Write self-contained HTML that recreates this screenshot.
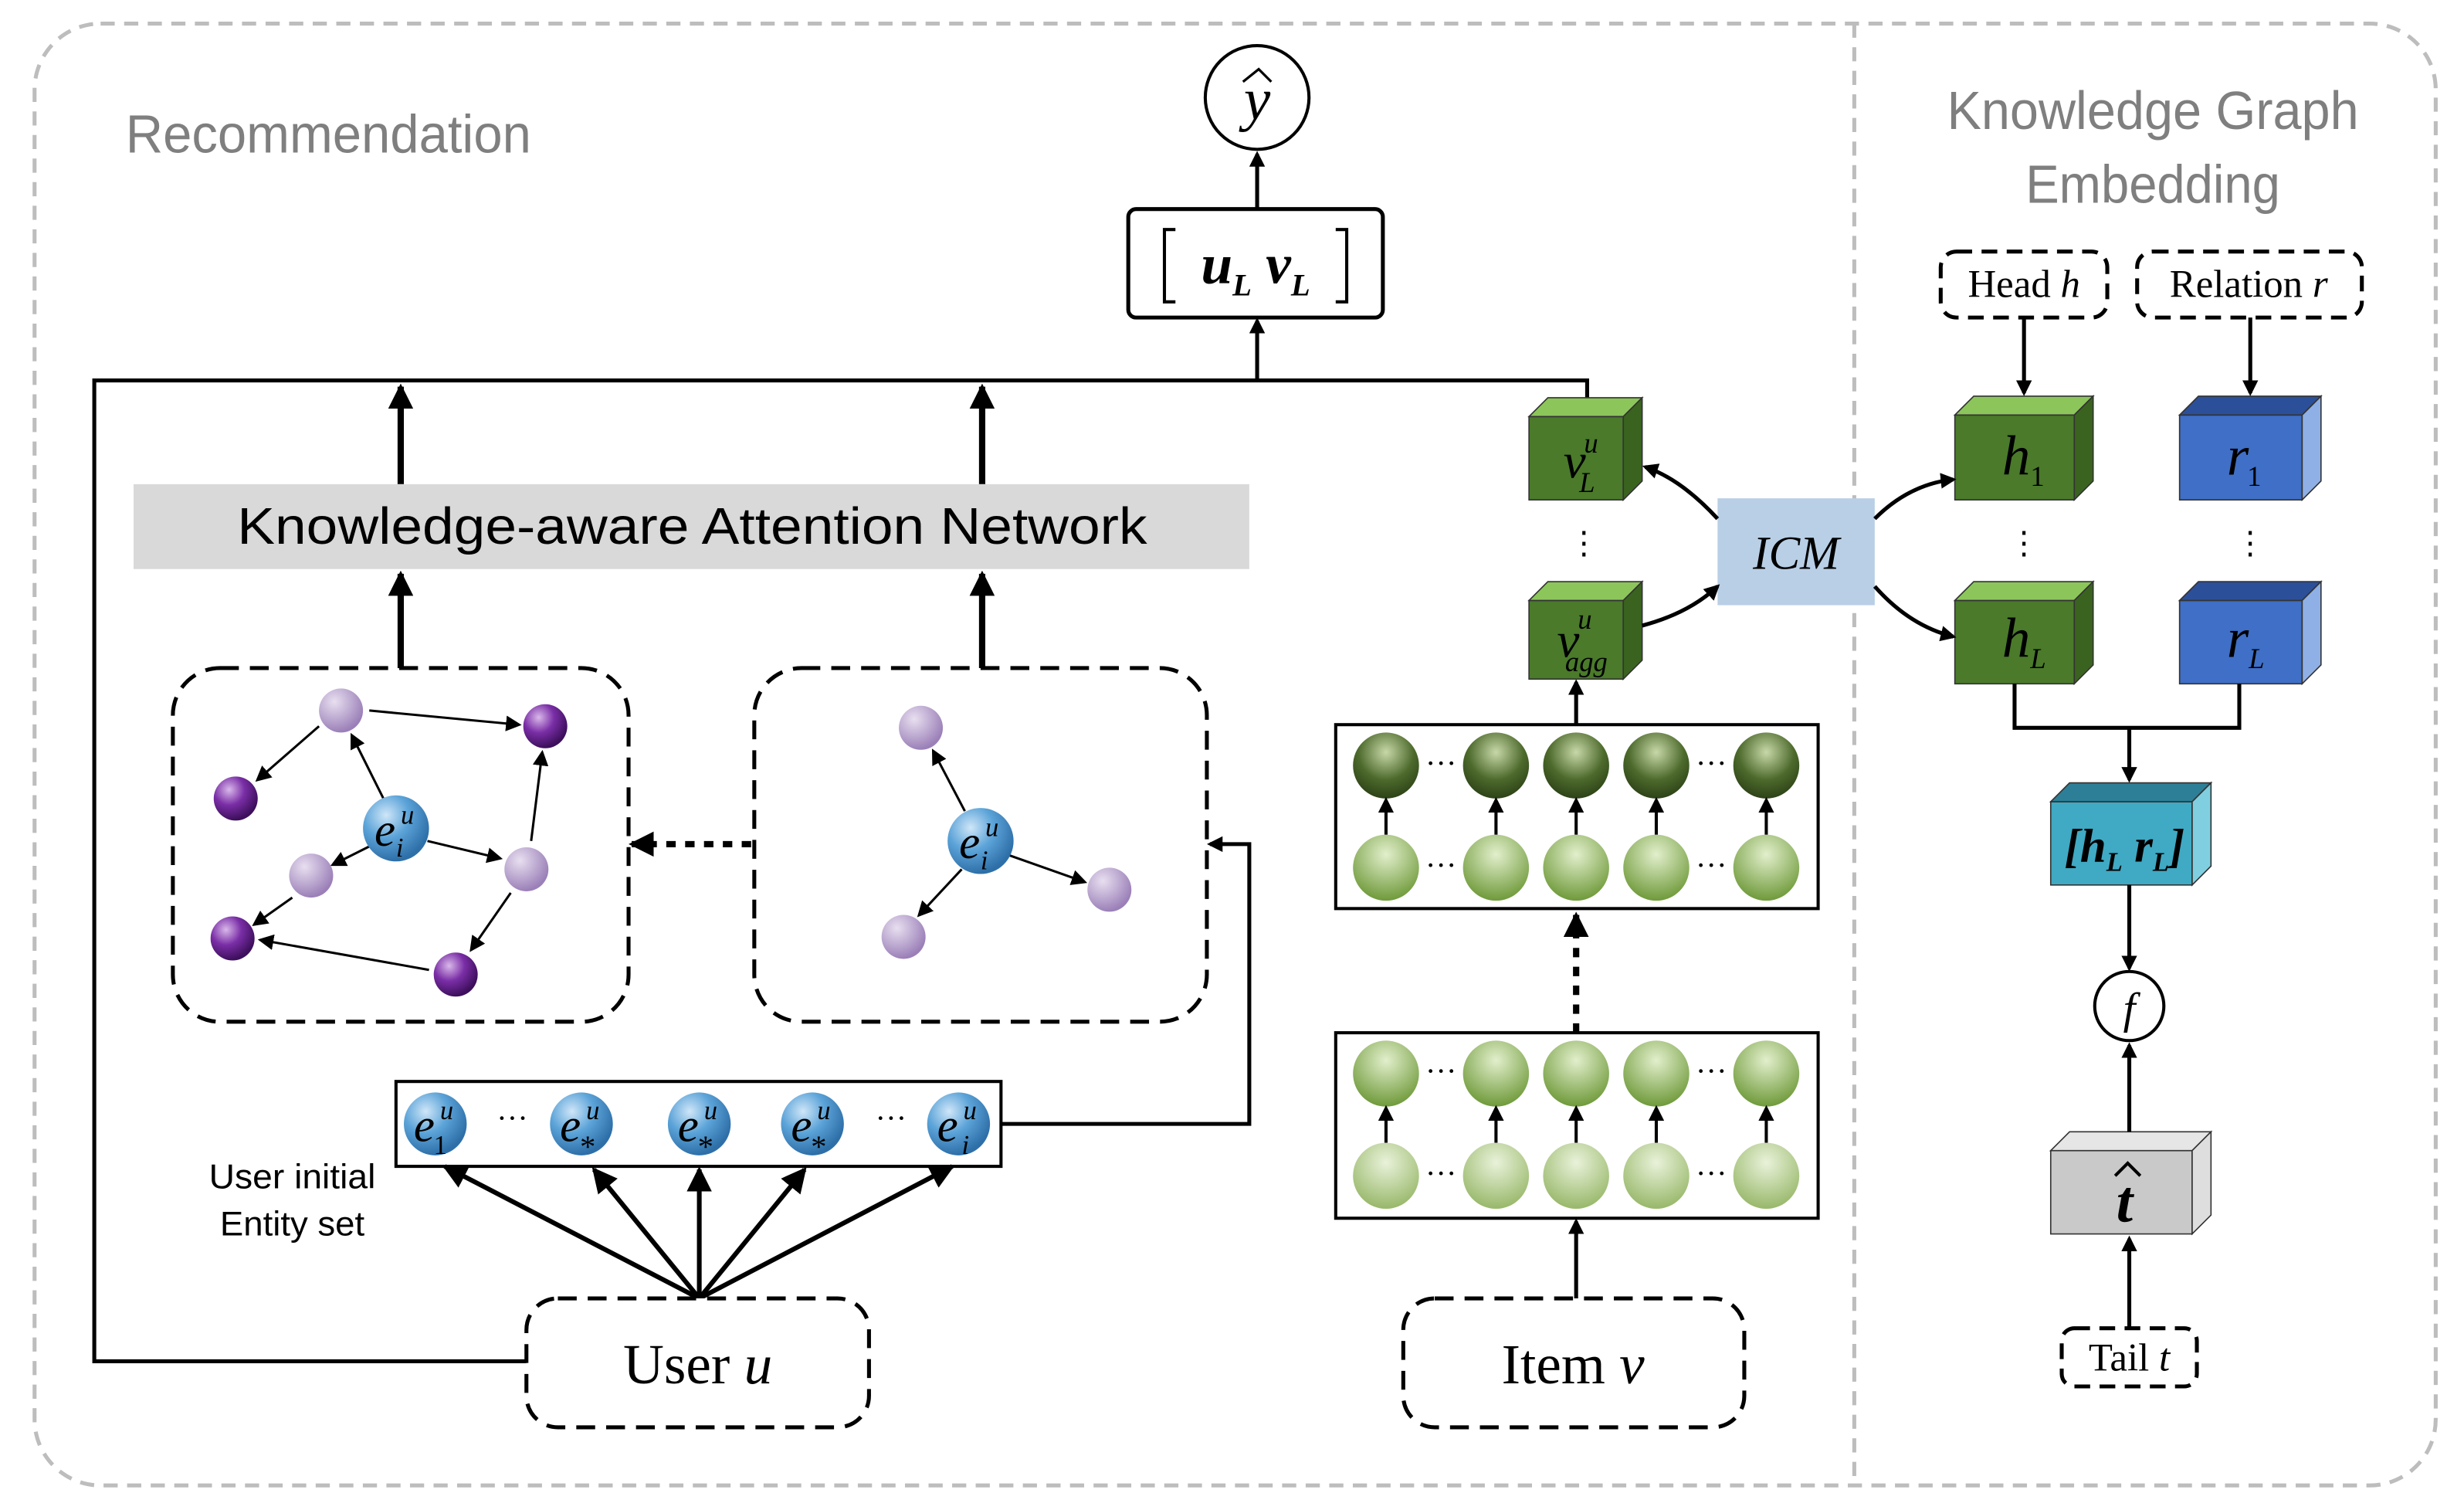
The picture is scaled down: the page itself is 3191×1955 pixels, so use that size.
<!DOCTYPE html>
<html><head><meta charset="utf-8"><style>
html,body{margin:0;padding:0;background:#fff}
svg{display:block}
.s{font-family:"Liberation Sans",sans-serif}
.t{font-family:"Liberation Serif",serif}
</style></head><body>
<svg width="3191" height="1955" viewBox="0 0 1568 960.6" xmlns="http://www.w3.org/2000/svg">
<defs>
<marker id="a" markerWidth="10" markerHeight="10" refX="8" refY="5" orient="auto" markerUnits="userSpaceOnUse"><path d="M0,0 L10,5 L0,10 z" fill="#000"/></marker>
<marker id="A" markerWidth="16" markerHeight="16" refX="14" refY="8" orient="auto" markerUnits="userSpaceOnUse"><path d="M0,0 L16,8 L0,16 z" fill="#000"/></marker>
<radialGradient id="gb" cx="35%" cy="30%" r="70%"><stop offset="0" stop-color="#cfe6f8"/><stop offset="0.5" stop-color="#5ba3d8"/><stop offset="1" stop-color="#2e6fa8"/></radialGradient>
<radialGradient id="gp" cx="35%" cy="30%" r="70%"><stop offset="0" stop-color="#e8dff0"/><stop offset="1" stop-color="#9b80b8"/></radialGradient>
<radialGradient id="gd" cx="35%" cy="30%" r="70%"><stop offset="0" stop-color="#d9b8ea"/><stop offset="0.5" stop-color="#7a2ea6"/><stop offset="1" stop-color="#3d0f5c"/></radialGradient>
<radialGradient id="gg1" cx="50%" cy="30%" r="70%"><stop offset="0" stop-color="#c7d8a8"/><stop offset="0.6" stop-color="#4d6a2c"/><stop offset="1" stop-color="#2d4217"/></radialGradient>
<radialGradient id="gg2" cx="50%" cy="30%" r="70%"><stop offset="0" stop-color="#e2efcc"/><stop offset="1" stop-color="#6f9a3a"/></radialGradient>
<radialGradient id="gg3" cx="50%" cy="30%" r="70%"><stop offset="0" stop-color="#e9f2da"/><stop offset="1" stop-color="#98b86a"/></radialGradient>
</defs>
<rect width="1568" height="961" fill="#fff"/>
<rect x="22" y="15" width="1528" height="930" rx="42" fill="none" stroke="#bdbdbd" stroke-width="2.5" stroke-dasharray="9,6"/>
<line x1="1180" y1="15" x2="1180" y2="945" stroke="#bdbdbd" stroke-width="2.5" stroke-dasharray="9,6"/>
<text x="80" y="97" class="s" font-size="34" fill="#7f7f7f" textLength="258" lengthAdjust="spacingAndGlyphs">Recommendation</text>
<text x="1239" y="82" class="s" font-size="34" fill="#7f7f7f" textLength="262" lengthAdjust="spacingAndGlyphs">Knowledge Graph</text>
<text x="1289" y="129" class="s" font-size="34" fill="#7f7f7f" textLength="162" lengthAdjust="spacingAndGlyphs">Embedding</text>

<circle cx="800" cy="62" r="33" fill="#fff" stroke="#000" stroke-width="2"/>
<text x="800" y="76" class="t" font-size="38" font-style="italic" text-anchor="middle">y</text>
<path d="M791,52 L801,44 L809,52" fill="none" stroke="#000" stroke-width="1.6"/>
<rect x="718" y="133" width="162" height="69" rx="5" fill="#fff" stroke="#000" stroke-width="2.5"/>
<path d="M748,146 L741,146 L741,192 L748,192 M850,146 L857,146 L857,192 L850,192" fill="none" stroke="#000" stroke-width="2"/>
<text x="799" y="180" class="t" font-size="36" font-style="italic" font-weight="bold" text-anchor="middle">u<tspan font-size="20" dy="8">L</tspan><tspan dy="-8"> v</tspan><tspan font-size="20" dy="8">L</tspan></text>
<line x1="800" y1="133" x2="800" y2="98" stroke="#000" stroke-width="2.5" marker-end="url(#a)"/>
<line x1="800" y1="242" x2="800" y2="204" stroke="#000" stroke-width="2.5" marker-end="url(#a)"/>
<polyline points="335,866 60,866 60,242 1010,242 1010,256" fill="none" stroke="#000" stroke-width="2.5"/>
<line x1="255" y1="308" x2="255" y2="246" stroke="#000" stroke-width="4" marker-end="url(#A)"/>
<line x1="625" y1="308" x2="625" y2="246" stroke="#000" stroke-width="4" marker-end="url(#A)"/>
<rect x="85" y="308" width="710" height="54" fill="#d9d9d9"/>
<text x="151" y="346" class="s" font-size="33" textLength="579" lengthAdjust="spacingAndGlyphs">Knowledge-aware Attention Network</text>
<line x1="255" y1="425" x2="255" y2="365" stroke="#000" stroke-width="4" marker-end="url(#A)"/>
<line x1="625" y1="425" x2="625" y2="365" stroke="#000" stroke-width="4" marker-end="url(#A)"/>
<rect x="110" y="425" width="290" height="225" rx="30" fill="none" stroke="#000" stroke-width="2.5" stroke-dasharray="12,7"/>
<rect x="480" y="425" width="288" height="225" rx="30" fill="none" stroke="#000" stroke-width="2.5" stroke-dasharray="12,7"/>
<line x1="478" y1="537" x2="402" y2="537" stroke="#000" stroke-width="4" stroke-dasharray="6,6" marker-end="url(#A)"/>
<polyline points="637,715 795,715 795,537 770,537" fill="none" stroke="#000" stroke-width="2.5" marker-end="url(#a)"/>
<g stroke="#000" stroke-width="1.5" fill="none" marker-end="url(#a)">
<line x1="244" y1="508" x2="224" y2="468"/>
<line x1="235" y1="452" x2="330" y2="461"/>
<line x1="203" y1="462" x2="164" y2="496"/>
<line x1="272" y1="535" x2="318" y2="546"/>
<line x1="338" y1="535" x2="345" y2="479"/>
<line x1="325" y1="568" x2="300" y2="604"/>
<line x1="186" y1="571" x2="162" y2="588"/>
<line x1="273" y1="617" x2="166" y2="598"/>
<line x1="236" y1="538" x2="212" y2="550"/>
</g>
<circle cx="217" cy="452" r="14" fill="url(#gp)"/>
<circle cx="198" cy="557" r="14" fill="url(#gp)"/>
<circle cx="335" cy="553" r="14" fill="url(#gp)"/>
<circle cx="347" cy="462" r="14" fill="url(#gd)"/>
<circle cx="150" cy="508" r="14" fill="url(#gd)"/>
<circle cx="148" cy="597" r="14" fill="url(#gd)"/>
<circle cx="290" cy="620" r="14" fill="url(#gd)"/>
<circle cx="252" cy="527" r="21" fill="url(#gb)"/>
<text x="245" y="538" class="t" font-size="30" font-style="italic" text-anchor="middle">e</text><text x="255" y="524" class="t" font-size="17" font-style="italic">u</text><text x="252" y="545" class="t" font-size="17" font-style="italic">i</text>
<g stroke="#000" stroke-width="1.5" fill="none" marker-end="url(#a)">
<line x1="614" y1="516" x2="594" y2="478"/>
<line x1="642" y1="544" x2="690" y2="561"/>
<line x1="612" y1="553" x2="585" y2="582"/>
</g>
<circle cx="586" cy="463" r="14" fill="url(#gp)"/>
<circle cx="706" cy="566" r="14" fill="url(#gp)"/>
<circle cx="575" cy="596" r="14" fill="url(#gp)"/>
<circle cx="624" cy="535" r="21" fill="url(#gb)"/>
<text x="617" y="546" class="t" font-size="30" font-style="italic" text-anchor="middle">e</text><text x="627" y="532" class="t" font-size="17" font-style="italic">u</text><text x="624" y="553" class="t" font-size="17" font-style="italic">i</text>
<rect x="252" y="688" width="385" height="54" fill="#fff" stroke="#000" stroke-width="2"/>
<g class="t" font-style="italic">
<circle cx="277" cy="715" r="20" fill="url(#gb)"/><text x="270" y="726" font-size="30" text-anchor="middle">e</text><text x="280" y="712" font-size="17">u</text><text x="276" y="734" font-size="17" font-style="normal">1</text>
<circle cx="370" cy="715" r="20" fill="url(#gb)"/><text x="363" y="726" font-size="30" text-anchor="middle">e</text><text x="373" y="712" font-size="17">u</text><text x="369" y="736" font-size="20" font-style="normal">*</text>
<circle cx="445" cy="715" r="20" fill="url(#gb)"/><text x="438" y="726" font-size="30" text-anchor="middle">e</text><text x="448" y="712" font-size="17">u</text><text x="444" y="736" font-size="20" font-style="normal">*</text>
<circle cx="517" cy="715" r="20" fill="url(#gb)"/><text x="510" y="726" font-size="30" text-anchor="middle">e</text><text x="520" y="712" font-size="17">u</text><text x="516" y="736" font-size="20" font-style="normal">*</text>
<circle cx="610" cy="715" r="20" fill="url(#gb)"/><text x="603" y="726" font-size="30" text-anchor="middle">e</text><text x="613" y="712" font-size="17">u</text><text x="612" y="734" font-size="17">i</text>
<text x="326" y="718" font-size="20" font-style="normal" text-anchor="middle">···</text>
<text x="567" y="718" font-size="20" font-style="normal" text-anchor="middle">···</text>
</g>
<text x="186" y="756" class="s" font-size="22" text-anchor="middle" textLength="106" lengthAdjust="spacingAndGlyphs">User initial</text>
<text x="186" y="786" class="s" font-size="22" text-anchor="middle" textLength="92" lengthAdjust="spacingAndGlyphs">Entity set</text>
<g stroke="#000" stroke-width="3" marker-end="url(#A)">
<line x1="445" y1="826" x2="283" y2="742"/>
<line x1="445" y1="826" x2="378" y2="744"/>
<line x1="445" y1="826" x2="445" y2="744"/>
<line x1="445" y1="826" x2="512" y2="744"/>
<line x1="445" y1="826" x2="606" y2="742"/>
</g>
<rect x="335" y="826" width="218" height="82" rx="20" fill="#fff" stroke="#000" stroke-width="2.5" stroke-dasharray="12,7"/>
<text x="444" y="880" class="t" font-size="36" text-anchor="middle">User <tspan font-style="italic">u</tspan></text>
<rect x="893" y="826" width="217" height="82" rx="20" fill="#fff" stroke="#000" stroke-width="2.5" stroke-dasharray="12,7"/>
<text x="1001" y="880" class="t" font-size="36" text-anchor="middle">Item <tspan font-style="italic">v</tspan></text>
<line x1="1003" y1="826" x2="1003" y2="777" stroke="#000" stroke-width="2.5" marker-end="url(#a)"/>
<rect x="850" y="657" width="307" height="118" fill="#fff" stroke="#000" stroke-width="2"/>
<rect x="850" y="461" width="307" height="117" fill="#fff" stroke="#000" stroke-width="2"/>
<line x1="1003" y1="657" x2="1003" y2="582" stroke="#000" stroke-width="4" stroke-dasharray="6,6" marker-end="url(#A)"/>
<line x1="1003" y1="461" x2="1003" y2="434" stroke="#000" stroke-width="2.5" marker-end="url(#a)"/>
<g>
<circle cx="882" cy="487" r="21" fill="url(#gg1)"/><circle cx="952" cy="487" r="21" fill="url(#gg1)"/><circle cx="1003" cy="487" r="21" fill="url(#gg1)"/><circle cx="1054" cy="487" r="21" fill="url(#gg1)"/><circle cx="1124" cy="487" r="21" fill="url(#gg1)"/>
<circle cx="882" cy="552" r="21" fill="url(#gg2)"/><circle cx="952" cy="552" r="21" fill="url(#gg2)"/><circle cx="1003" cy="552" r="21" fill="url(#gg2)"/><circle cx="1054" cy="552" r="21" fill="url(#gg2)"/><circle cx="1124" cy="552" r="21" fill="url(#gg2)"/>
<circle cx="882" cy="683" r="21" fill="url(#gg2)"/><circle cx="952" cy="683" r="21" fill="url(#gg2)"/><circle cx="1003" cy="683" r="21" fill="url(#gg2)"/><circle cx="1054" cy="683" r="21" fill="url(#gg2)"/><circle cx="1124" cy="683" r="21" fill="url(#gg2)"/>
<circle cx="882" cy="748" r="21" fill="url(#gg3)"/><circle cx="952" cy="748" r="21" fill="url(#gg3)"/><circle cx="1003" cy="748" r="21" fill="url(#gg3)"/><circle cx="1054" cy="748" r="21" fill="url(#gg3)"/><circle cx="1124" cy="748" r="21" fill="url(#gg3)"/>
</g>
<g class="t" font-size="20" text-anchor="middle">
<text x="917" y="492">···</text><text x="1089" y="492">···</text><text x="917" y="557">···</text><text x="1089" y="557">···</text>
<text x="917" y="688">···</text><text x="1089" y="688">···</text><text x="917" y="753">···</text><text x="1089" y="753">···</text>
</g>
<g stroke="#000" stroke-width="2" marker-end="url(#a)">
<line x1="882" y1="531" x2="882" y2="509"/><line x1="952" y1="531" x2="952" y2="509"/><line x1="1003" y1="531" x2="1003" y2="509"/><line x1="1054" y1="531" x2="1054" y2="509"/><line x1="1124" y1="531" x2="1124" y2="509"/>
<line x1="882" y1="727" x2="882" y2="705"/><line x1="952" y1="727" x2="952" y2="705"/><line x1="1003" y1="727" x2="1003" y2="705"/><line x1="1054" y1="727" x2="1054" y2="705"/><line x1="1124" y1="727" x2="1124" y2="705"/>
</g>
<g stroke="#333" stroke-width="0.8">
<rect x="973" y="265" width="60" height="53" fill="#4a7a2a"/><polygon points="973,265 985,253 1045,253 1033,265" fill="#8cc65a"/><polygon points="1033,265 1045,253 1045,306 1033,318" fill="#3a6320"/>
<rect x="973" y="382" width="60" height="50" fill="#4a7a2a"/><polygon points="973,382 985,370 1045,370 1033,382" fill="#8cc65a"/><polygon points="1033,382 1045,370 1045,420 1033,432" fill="#3a6320"/>
<rect x="1244" y="264" width="76" height="54" fill="#4a7a2a"/><polygon points="1244,264 1256,252 1332,252 1320,264" fill="#8cc65a"/><polygon points="1320,264 1332,252 1332,306 1320,318" fill="#3a6320"/>
<rect x="1244" y="382" width="76" height="53" fill="#4a7a2a"/><polygon points="1244,382 1256,370 1332,370 1320,382" fill="#8cc65a"/><polygon points="1320,382 1332,370 1332,423 1320,435" fill="#3a6320"/>
<rect x="1387" y="264" width="78" height="54" fill="#3f6fc6"/><polygon points="1387,264 1399,252 1477,252 1465,264" fill="#2c4f99"/><polygon points="1465,264 1477,252 1477,306 1465,318" fill="#8fb0e6"/>
<rect x="1387" y="382" width="78" height="53" fill="#3f6fc6"/><polygon points="1387,382 1399,370 1477,370 1465,382" fill="#2c4f99"/><polygon points="1465,382 1477,370 1477,423 1465,435" fill="#8fb0e6"/>
<rect x="1305" y="510" width="90" height="53" fill="#40a9c3"/><polygon points="1305,510 1317,498 1407,498 1395,510" fill="#2c7f96"/><polygon points="1395,510 1407,498 1407,551 1395,563" fill="#80cfe0"/>
<rect x="1305" y="732" width="90" height="53" fill="#c9c9c9"/><polygon points="1305,732 1317,720 1407,720 1395,732" fill="#e6e6e6"/><polygon points="1395,732 1407,720 1407,773 1395,785" fill="#dedede"/>
</g>
<g class="t" font-style="italic">
<text x="1002" y="304" font-size="32" text-anchor="middle">v</text><text x="1008" y="288" font-size="18">u</text><text x="1005" y="313" font-size="18">L</text>
<text x="998" y="418" font-size="32" text-anchor="middle">v</text><text x="1004" y="400" font-size="18">u</text><text x="996" y="427" font-size="18">agg</text>
<text x="1283" y="302" font-size="36" text-anchor="middle">h</text><text x="1292" y="309" font-size="18" font-style="normal">1</text>
<text x="1283" y="418" font-size="36" text-anchor="middle">h</text><text x="1292" y="425" font-size="18">L</text>
<text x="1424" y="302" font-size="36" text-anchor="middle">r</text><text x="1430" y="309" font-size="18" font-style="normal">1</text>
<text x="1424" y="418" font-size="36" text-anchor="middle">r</text><text x="1431" y="425" font-size="18">L</text>
<text x="1352" y="548" font-size="30" font-weight="bold" text-anchor="middle">[h<tspan font-size="17" dy="6">L</tspan><tspan dy="-6"> r</tspan><tspan font-size="17" dy="6">L</tspan><tspan dy="-6">]</tspan></text>
<text x="1352" y="777" font-size="38" font-weight="bold" text-anchor="middle">t</text>
</g>
<path d="M1346,748 L1354,740 L1362,748" fill="none" stroke="#000" stroke-width="2"/>
<text x="1008" y="352" class="t" font-size="20" text-anchor="middle">⋮</text>
<text x="1288" y="352" class="t" font-size="20" text-anchor="middle">⋮</text>
<text x="1432" y="352" class="t" font-size="20" text-anchor="middle">⋮</text>
<rect x="1093" y="317" width="100" height="68" fill="#b8cfe6"/>
<text x="1143" y="362" class="t" font-size="30" font-style="italic" text-anchor="middle">ICM</text>
<g stroke="#000" stroke-width="2.5" fill="none" marker-end="url(#a)">
<path d="M1093,330 Q1070,305 1047,297"/>
<path d="M1045,398 Q1075,390 1093,373"/>
<path d="M1193,330 Q1215,308 1243,305"/>
<path d="M1193,373 Q1215,398 1243,405"/>
</g>
<rect x="1235" y="160" width="106" height="42" rx="10" fill="#fff" stroke="#000" stroke-width="2.5" stroke-dasharray="10,6"/>
<text x="1288" y="189" class="t" font-size="25" text-anchor="middle">Head <tspan font-style="italic">h</tspan></text>
<rect x="1360" y="160" width="143" height="42" rx="10" fill="#fff" stroke="#000" stroke-width="2.5" stroke-dasharray="10,6"/>
<text x="1431" y="189" class="t" font-size="25" text-anchor="middle">Relation <tspan font-style="italic">r</tspan></text>
<line x1="1288" y1="202" x2="1288" y2="250" stroke="#000" stroke-width="2.5" marker-end="url(#a)"/>
<line x1="1432" y1="202" x2="1432" y2="250" stroke="#000" stroke-width="2.5" marker-end="url(#a)"/>
<polyline points="1282,435 1282,463 1425,463 1425,435" fill="none" stroke="#000" stroke-width="2.5"/>
<line x1="1355" y1="463" x2="1355" y2="496" stroke="#000" stroke-width="2.5" marker-end="url(#a)"/>
<line x1="1355" y1="563" x2="1355" y2="616" stroke="#000" stroke-width="2.5" marker-end="url(#a)"/>
<circle cx="1355" cy="640" r="22" fill="#fff" stroke="#000" stroke-width="2"/>
<text x="1355" y="651" class="t" font-size="28" font-style="italic" text-anchor="middle">f</text>
<line x1="1355" y1="720" x2="1355" y2="665" stroke="#000" stroke-width="2.5" marker-end="url(#a)"/>
<rect x="1312" y="845" width="86" height="37" rx="8" fill="#fff" stroke="#000" stroke-width="2.5" stroke-dasharray="10,6"/>
<text x="1355" y="872" class="t" font-size="25" text-anchor="middle">Tail <tspan font-style="italic">t</tspan></text>
<line x1="1355" y1="845" x2="1355" y2="788" stroke="#000" stroke-width="2.5" marker-end="url(#a)"/>
</svg>
</body></html>
